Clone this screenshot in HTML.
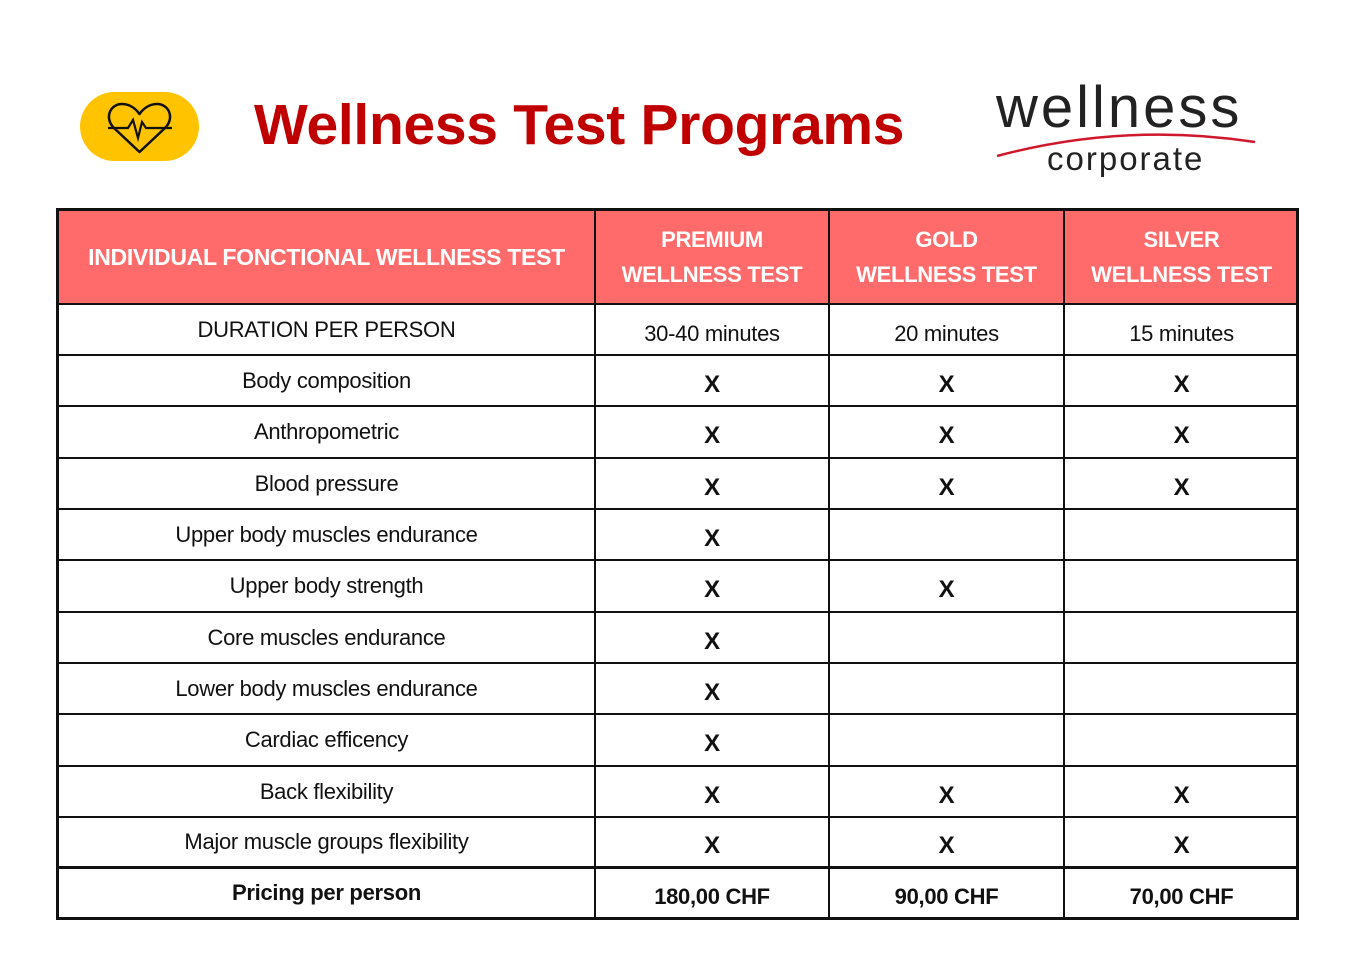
<!DOCTYPE html>
<html><head><meta charset="utf-8"><style>
body{margin:0;width:1365px;height:971px;background:#fff;position:relative;font-family:"Liberation Sans",sans-serif;overflow:hidden}
.abs{position:absolute}
.c{position:absolute;display:flex;align-items:center;justify-content:center;text-align:center;font-size:22px;color:#111;letter-spacing:-0.3px;box-sizing:border-box}
.hd{color:#fff;font-weight:bold;line-height:35px}
.x{font-weight:bold;font-size:24px;padding-top:8px}
.b{font-weight:bold}
.hl{position:absolute;left:58px;width:1241px;height:2px;background:#111}
.vl{position:absolute;top:210px;height:708px;width:2px;background:#111}
</style></head><body>
<div class="abs" style="left:80px;top:92px;width:119px;height:69px;border-radius:35px;background:#FFC300"></div>
<svg class="abs" style="left:80px;top:92px" width="119" height="69" viewBox="0 0 119 69">
<path d="M59.5 60 L34 36 C24 26 30 12 42 12 C50 12 56 17 59.5 22 C63 17 69 12 77 12 C89 12 95 26 85 36 Z" fill="none" stroke="#111" stroke-width="2.5" stroke-linejoin="round"/>
<path d="M28 36 L48 36 L53 28 L58 46 L62 30 L66 36 L92 36" fill="none" stroke="#111" stroke-width="2.2"/>
</svg>
<div class="abs" style="left:254px;top:92px;font-size:57px;font-weight:bold;color:#C00000;letter-spacing:-0.3px;white-space:nowrap">Wellness Test Programs</div>
<div class="abs" style="left:996px;top:74px;font-size:58px;color:#222;letter-spacing:3px">wellness</div>
<svg class="abs" style="left:995px;top:128px" width="265" height="30"><path d="M2 28 Q130 -6 260 14" fill="none" stroke="#d0182c" stroke-width="2.5"/></svg>
<div class="abs" style="left:1047px;top:140px;font-size:33px;color:#222;letter-spacing:2px">corporate</div>

<div class="abs" style="left:58px;top:210px;width:1241px;height:94px;background:#FF6B6B"></div>

<div class="c hd" style="left:58px;top:210px;width:537px;height:94px;font-size:23px">INDIVIDUAL FONCTIONAL WELLNESS TEST</div>
<div class="c hd" style="left:595px;top:210px;width:234px;height:94px">PREMIUM<br>WELLNESS TEST</div>
<div class="c hd" style="left:829px;top:210px;width:235px;height:94px">GOLD<br>WELLNESS TEST</div>
<div class="c hd" style="left:1064px;top:210px;width:235px;height:94px">SILVER<br>WELLNESS TEST</div>

<div class="c" style="left:58px;top:304px;width:537px;height:51px">DURATION PER PERSON</div>
<div class="c" style="left:595px;top:304px;width:234px;height:55px;padding-top:4px">30-40 minutes</div>
<div class="c" style="left:829px;top:304px;width:235px;height:55px;padding-top:4px">20 minutes</div>
<div class="c" style="left:1064px;top:304px;width:235px;height:55px;padding-top:4px">15 minutes</div>

<div class="c" style="left:58px;top:355px;width:537px;height:51px">Body composition</div>
<div class="c x" style="left:595px;top:355px;width:234px;height:51px">X</div><div class="c x" style="left:829px;top:355px;width:235px;height:51px">X</div><div class="c x" style="left:1064px;top:355px;width:235px;height:51px">X</div>

<div class="c" style="left:58px;top:406px;width:537px;height:52px">Anthropometric</div>
<div class="c x" style="left:595px;top:406px;width:234px;height:52px">X</div><div class="c x" style="left:829px;top:406px;width:235px;height:52px">X</div><div class="c x" style="left:1064px;top:406px;width:235px;height:52px">X</div>

<div class="c" style="left:58px;top:458px;width:537px;height:51px">Blood pressure</div>
<div class="c x" style="left:595px;top:458px;width:234px;height:51px">X</div><div class="c x" style="left:829px;top:458px;width:235px;height:51px">X</div><div class="c x" style="left:1064px;top:458px;width:235px;height:51px">X</div>

<div class="c" style="left:58px;top:509px;width:537px;height:51px">Upper body muscles endurance</div>
<div class="c x" style="left:595px;top:509px;width:234px;height:51px">X</div>

<div class="c" style="left:58px;top:560px;width:537px;height:52px">Upper body strength</div>
<div class="c x" style="left:595px;top:560px;width:234px;height:52px">X</div><div class="c x" style="left:829px;top:560px;width:235px;height:52px">X</div>

<div class="c" style="left:58px;top:612px;width:537px;height:51px">Core muscles endurance</div>
<div class="c x" style="left:595px;top:612px;width:234px;height:51px">X</div>

<div class="c" style="left:58px;top:663px;width:537px;height:51px">Lower body muscles endurance</div>
<div class="c x" style="left:595px;top:663px;width:234px;height:51px">X</div>

<div class="c" style="left:58px;top:714px;width:537px;height:52px">Cardiac efficency</div>
<div class="c x" style="left:595px;top:714px;width:234px;height:52px">X</div>

<div class="c" style="left:58px;top:766px;width:537px;height:51px">Back flexibility</div>
<div class="c x" style="left:595px;top:766px;width:234px;height:51px">X</div><div class="c x" style="left:829px;top:766px;width:235px;height:51px">X</div><div class="c x" style="left:1064px;top:766px;width:235px;height:51px">X</div>

<div class="c" style="left:58px;top:817px;width:537px;height:50px">Major muscle groups flexibility</div>
<div class="c x" style="left:595px;top:817px;width:234px;height:50px">X</div><div class="c x" style="left:829px;top:817px;width:235px;height:50px">X</div><div class="c x" style="left:1064px;top:817px;width:235px;height:50px">X</div>

<div class="c b" style="left:58px;top:867px;width:537px;height:51px">Pricing per person</div>
<div class="c b" style="left:595px;top:867px;width:234px;height:55px;padding-top:4px">180,00 CHF</div>
<div class="c b" style="left:829px;top:867px;width:235px;height:55px;padding-top:4px">90,00 CHF</div>
<div class="c b" style="left:1064px;top:867px;width:235px;height:55px;padding-top:4px">70,00 CHF</div>

<div class="hl" style="top:303px"></div>
<div class="hl" style="top:354px"></div>
<div class="hl" style="top:405px"></div>
<div class="hl" style="top:457px"></div>
<div class="hl" style="top:508px"></div>
<div class="hl" style="top:559px"></div>
<div class="hl" style="top:611px"></div>
<div class="hl" style="top:662px"></div>
<div class="hl" style="top:713px"></div>
<div class="hl" style="top:765px"></div>
<div class="hl" style="top:816px"></div>
<div class="hl" style="top:866px;height:3px"></div>
<div class="vl" style="left:594px"></div>
<div class="vl" style="left:828px"></div>
<div class="vl" style="left:1063px"></div>
<div class="abs" style="left:56px;top:208px;width:1237px;height:706px;border:3px solid #111"></div>
</body></html>
